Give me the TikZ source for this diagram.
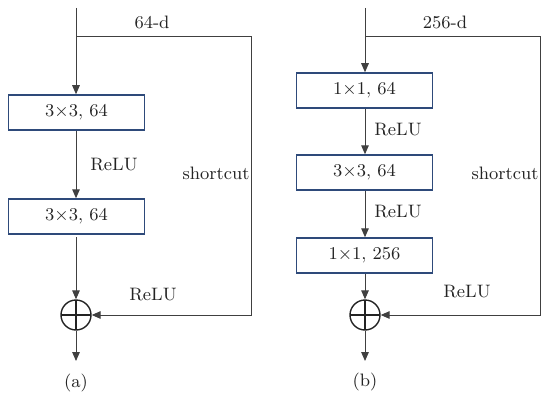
\documentclass[tikz,border=0pt]{standalone}
\usetikzlibrary{arrows.meta}
\definecolor{boxblue}{RGB}{46,74,122}
\definecolor{linegray}{RGB}{64,64,64}
\definecolor{txtgray}{RGB}{35,35,35}
\tikzset{
  block/.style={draw=boxblue,line width=0.75pt,minimum width=68pt,minimum height=17.5pt,
    inner sep=0pt,text=txtgray},
  sum/.style={circle,draw=txtgray,line width=0.7pt,minimum size=15pt,inner sep=0pt,
    path picture={\draw[txtgray,line width=0.6pt]
      (path picture bounding box.north) -- (path picture bounding box.south)
      (path picture bounding box.west) -- (path picture bounding box.east);}},
  lbl/.style={text=txtgray,inner sep=0pt},
  flow/.style={draw=linegray,line width=0.5pt,-{Triangle[length=4.5pt,width=3.8pt]}}
}
\begin{document}
\begin{tikzpicture}[x=0.5pt,y=-0.5pt,font=\fontsize{9}{10}\selectfont]
\useasboundingbox (0,0) rectangle (550,401);
% (a) basic block
\coordinate (ina) at (76,8);
\coordinate (bra) at (76,37);
\coordinate (cra) at (251,37);
\node[block] (a1) at (76.5,112.5) {3$\times$3, 64};
\node[block] (a2) at (76.5,216.5) {3$\times$3, 64};
\node[sum] (suma) at (76,315) {};
\coordinate (outa) at (76,361);
\coordinate (gapa) at (76,237);
\draw[flow] (ina) -- (ina |- a1.north);
\draw[flow] (a1.south -| ina) -- (ina |- a2.north);
\draw[flow] (gapa) -- (suma);
\draw[flow] (bra) -- (cra) |- (suma);
\draw[flow] (suma) -- (outa);
\node[lbl] at (152,22) {64-d};
\node[lbl] at (114,165) {ReLU};
\node[lbl] at (216,173) {shortcut};
\node[lbl] at (153,295) {ReLU};
\node[lbl] at (76,383) {(a)};
% (b) bottleneck block
\coordinate (inb) at (365,8);
\coordinate (brb) at (365,37);
\coordinate (crb) at (540,37);
\node[block] (b1) at (364.5,90.5) {1$\times$1, 64};
\node[block] (b2) at (364.5,172.5) {3$\times$3, 64};
\node[block] (b3) at (364.5,255.5) {1$\times$1, 256};
\node[sum] (sumb) at (365,315) {};
\coordinate (outb) at (365,361);
\draw[flow] (inb) -- (inb |- b1.north);
\draw[flow] (b1.south -| inb) -- (inb |- b2.north);
\draw[flow] (b2.south -| inb) -- (inb |- b3.north);
\draw[flow] (b3.south -| inb) -- (sumb);
\draw[flow] (brb) -- (crb) |- (sumb);
\draw[flow] (sumb) -- (outb);
\node[lbl] at (445,22) {256-d};
\node[lbl] at (398,130) {ReLU};
\node[lbl] at (505,173) {shortcut};
\node[lbl] at (398,212) {ReLU};
\node[lbl] at (467,292) {ReLU};
\node[lbl] at (365,382) {(b)};
\end{tikzpicture}
\end{document}
